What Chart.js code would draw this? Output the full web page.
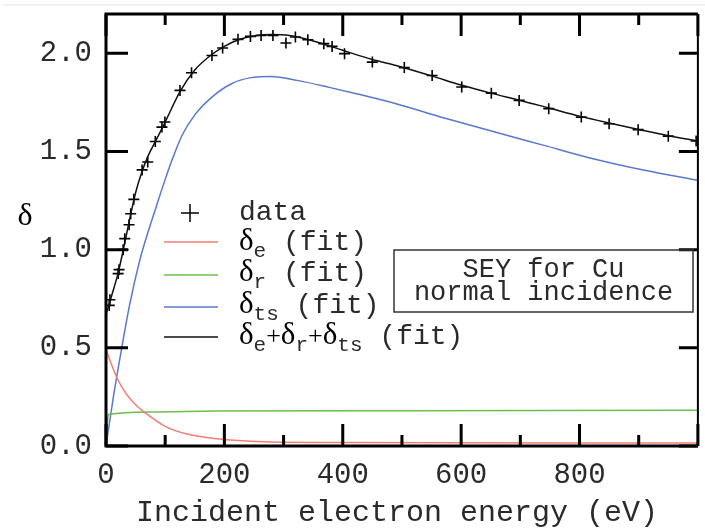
<!DOCTYPE html>
<html>
<head>
<meta charset="utf-8">
<script src="https://cdn.jsdelivr.net/npm/chart.js@4.4.1/dist/chart.umd.min.js"></script>
<style>
  html, body { margin: 0; padding: 0; background: #fff; }
  #wrap { width: 705px; height: 529px; }
</style>
</head>
<body>
<div id="wrap"><canvas id="c" width="705" height="529"></canvas></div>
<script>
// ---- measured data points (energy in eV, SEY delta) ----
const dataEnergy = [5.5, 6.7, 20.5, 22, 29, 31.7, 39, 41.7, 47, 61, 70.5, 83.3, 94.5, 99.5, 125, 144.5, 179, 197, 223, 244, 262, 282, 304, 320, 341, 368, 382, 403, 450, 504, 551, 601, 651, 698, 748, 803, 850, 899, 950, 997];
const dataDelta  = [0.716, 0.745, 0.878, 0.898, 1.0, 1.056, 1.127, 1.183, 1.256, 1.406, 1.446, 1.551, 1.624, 1.650, 1.811, 1.901, 1.989, 2.027, 2.071, 2.086, 2.091, 2.091, 2.052, 2.083, 2.069, 2.049, 2.035, 1.998, 1.955, 1.927, 1.887, 1.828, 1.797, 1.760, 1.718, 1.675, 1.641, 1.611, 1.578, 1.553];

// ---- fit curves ----
const eFitX = [0, 10, 18, 34, 50, 68, 100, 135, 187, 268, 400, 600, 1000];
const eFitY = [0.49, 0.41, 0.35, 0.267, 0.21, 0.165, 0.10, 0.062, 0.037, 0.022, 0.018, 0.016, 0.015];

const rFitX = [0, 4, 73, 187, 500, 1000];
const rFitY = [0, 0.16, 0.173, 0.178, 0.180, 0.182];

const tsFitX = [0, 13, 26, 40, 57, 70, 84.5, 98, 112, 129, 151, 179, 212, 245, 279, 323, 379, 423, 490, 570, 657, 740, 823, 910, 1000];
const tsFitY = [0, 0.26, 0.49, 0.72, 0.945, 1.08, 1.215, 1.34, 1.46, 1.585, 1.69, 1.777, 1.845, 1.876, 1.882, 1.862, 1.825, 1.794, 1.743, 1.672, 1.599, 1.531, 1.463, 1.404, 1.353];

const sumFitX = [0, 10, 20, 30, 40, 50, 60, 70, 85, 100, 125, 150, 175, 200, 225, 250, 280, 310, 350, 400, 450, 490, 550, 600, 650, 700, 750, 800, 850, 900, 950, 1000];
const sumFitY = [0.67, 0.77, 0.875, 1.01, 1.155, 1.29, 1.39, 1.47, 1.56, 1.65, 1.805, 1.915, 1.985, 2.035, 2.07, 2.088, 2.095, 2.09, 2.063, 2.015, 1.968, 1.938, 1.885, 1.838, 1.797, 1.76, 1.72, 1.68, 1.645, 1.612, 1.58, 1.553];

// ---- axis ticks ----
const xMajorTicks = [0, 200, 400, 600, 800, 1000];
const xMinorTicks = [100, 300, 500, 700, 900];
const yMajorTicks = [0, 0.5, 1.0, 1.5, 2.0];

const xTitle = 'Incident electron energy (eV)';
const yTitle = 'δ';
const boxLines = ['SEY for Cu', 'normal incidence'];

const RED = '#ef7f72', GREEN = '#6cbd4e', BLUE = '#5a78cc', BLACK = '#111';
const MONO = "'Liberation Mono', 'DejaVu Sans Mono', monospace";
const SERIF = "'Liberation Serif', 'DejaVu Serif', serif";

function pts(xs, ys) { return xs.map((x, i) => ({ x: x, y: ys[i] })); }

const lineDs = (label, xs, ys, color) => ({
  label, data: pts(xs, ys), showLine: true, borderColor: color, backgroundColor: color,
  borderWidth: 1.5, pointRadius: 0, cubicInterpolationMode: 'monotone', fill: false
});

const noOverflow = s => { s.paddingTop = 0; s.paddingBottom = 0; s.paddingLeft = 0; s.paddingRight = 0; };

const decor = {
  id: 'decor',
  afterDraw(chart) {
    const ctx = chart.ctx;
    const xs = chart.scales.x, ys = chart.scales.y;
    const a = chart.chartArea;
    ctx.save();
    // faint page edge line
    ctx.strokeStyle = '#ececec'; ctx.lineWidth = 1.5;
    ctx.beginPath(); ctx.moveTo(3, 5); ctx.lineTo(705, 5); ctx.stroke();

    ctx.strokeStyle = '#000';
    ctx.lineCap = 'butt';
    // frame
    ctx.lineWidth = 3;
    ctx.beginPath();
    ctx.moveTo(a.left, a.top - 1.5); ctx.lineTo(a.left, a.bottom + 1.5);
    ctx.moveTo(a.left - 1.5, a.bottom); ctx.lineTo(a.right, a.bottom);
    ctx.moveTo(a.left - 1.5, a.top); ctx.lineTo(a.right, a.top);
    ctx.stroke();
    ctx.lineWidth = 2;
    ctx.beginPath(); ctx.moveTo(a.right, a.top); ctx.lineTo(a.right, a.bottom); ctx.stroke();
    // ticks
    ctx.lineWidth = 3;
    ctx.beginPath();
    xMajorTicks.forEach(v => {
      const p = xs.getPixelForValue(v);
      ctx.moveTo(p, a.bottom); ctx.lineTo(p, a.bottom - 22);
      ctx.moveTo(p, a.top); ctx.lineTo(p, a.top + 22);
    });
    xMinorTicks.forEach(v => {
      const p = xs.getPixelForValue(v);
      ctx.moveTo(p, a.bottom); ctx.lineTo(p, a.bottom - 11);
      ctx.moveTo(p, a.top); ctx.lineTo(p, a.top + 11);
    });
    yMajorTicks.forEach(v => {
      const p = ys.getPixelForValue(v);
      ctx.moveTo(a.left, p); ctx.lineTo(a.left + 22, p);
      ctx.moveTo(a.right, p); ctx.lineTo(a.right - 19, p);
    });
    ctx.stroke();

    // axis titles
    ctx.fillStyle = '#2a2a2a';
    ctx.textAlign = 'center';
    ctx.textBaseline = 'alphabetic';
    ctx.font = '30px ' + MONO;
    ctx.fillText(xTitle, 397, 521);
    ctx.fillStyle = '#000';
    ctx.font = '32px ' + SERIF;
    ctx.fillText(yTitle, 25, 225);

    // legend
    const lx0 = 164, lx1 = 218, tx = 239;
    ctx.strokeStyle = '#000'; ctx.lineWidth = 1.5;
    ctx.beginPath();
    ctx.moveTo(190 - 9, 213); ctx.lineTo(190 + 9, 213);
    ctx.moveTo(190, 213 - 9); ctx.lineTo(190, 213 + 9);
    ctx.stroke();
    ctx.textAlign = 'left';
    ctx.fillStyle = '#2a2a2a';
    ctx.font = '28px ' + MONO;
    ctx.fillText('data', tx, 220);

    const rows = [
      { color: RED, ly: 242, by: 250, segs: [['δ', 'S'], ['e', 'sub'], [' (fit)', 'M']] },
      { color: GREEN, ly: 275, by: 281, segs: [['δ', 'S'], ['r', 'sub'], [' (fit)', 'M']] },
      { color: BLUE, ly: 307, by: 313, segs: [['δ', 'S'], ['ts', 'sub'], [' (fit)', 'M']] },
      { color: BLACK, ly: 337, by: 344, segs: [['δ', 'S'], ['e', 'sub'], ['+', 'P'], ['δ', 'S'], ['r', 'sub'], ['+', 'P'], ['δ', 'S'], ['ts', 'sub'], [' (fit)', 'M']] }
    ];
    rows.forEach(r => {
      ctx.strokeStyle = r.color; ctx.lineWidth = 1.5;
      ctx.beginPath(); ctx.moveTo(lx0, r.ly); ctx.lineTo(lx1, r.ly); ctx.stroke();
      let x = tx;
      r.segs.forEach(([t, k]) => {
        let dy = 0;
        if (k === 'S') { ctx.font = '31px ' + SERIF; ctx.fillStyle = '#000'; }
        else if (k === 'P') { ctx.font = '26px ' + SERIF; ctx.fillStyle = '#000'; }
        else if (k === 'sub') { ctx.font = '21px ' + MONO; ctx.fillStyle = '#2a2a2a'; dy = 7; }
        else { ctx.font = '28px ' + MONO; ctx.fillStyle = '#2a2a2a'; }
        ctx.fillText(t, x, r.by + dy);
        x += ctx.measureText(t).width;
      });
    });

    // annotation box
    ctx.strokeStyle = '#333'; ctx.lineWidth = 1.5;
    ctx.strokeRect(394, 250, 299, 62);
    ctx.fillStyle = '#2a2a2a';
    ctx.textAlign = 'center';
    ctx.font = '27px ' + MONO;
    ctx.fillText(boxLines[0], 543.5, 277);
    ctx.fillText(boxLines[1], 543.5, 300);
    ctx.restore();
  }
};

new Chart(document.getElementById('c'), {
  type: 'scatter',
  data: {
    datasets: [
      lineDs('δe (fit)', eFitX, eFitY, RED),
      lineDs('δr (fit)', rFitX, rFitY, GREEN),
      lineDs('δts (fit)', tsFitX, tsFitY, BLUE),
      lineDs('δe+δr+δts (fit)', sumFitX, sumFitY, BLACK),
      { label: 'data', data: pts(dataEnergy, dataDelta), showLine: false,
        pointStyle: 'cross', pointRadius: 5.5, borderColor: '#000', borderWidth: 1.6, backgroundColor: '#000' }
    ]
  },
  options: {
    responsive: false,
    animation: false,
    layout: { padding: { top: 14, right: 1, left: 0, bottom: 0 } },
    plugins: { legend: { display: false }, tooltip: { enabled: false } },
    scales: {
      x: {
        type: 'linear', min: 0, max: 1000,
        grid: { display: false, drawTicks: false },
        border: { display: false },
        ticks: {
          stepSize: 200, padding: 12, color: '#2a2a2a', maxRotation: 0,
          font: { family: MONO, size: 29 },
          callback: v => (v === 1000 ? '' : String(v))
        },
        afterFit: s => { s.height = 83; noOverflow(s); }
      },
      y: {
        type: 'linear', min: 0, max: 2.2,
        grid: { display: false, drawTicks: false },
        border: { display: false },
        ticks: {
          stepSize: 0.5, padding: 14, color: '#2a2a2a',
          font: { family: MONO, size: 29 },
          callback: v => (Math.abs(v / 0.5 - Math.round(v / 0.5)) < 1e-6 ? v.toFixed(1) : '')
        },
        afterFit: s => { s.width = 106; noOverflow(s); }
      }
    }
  },
  plugins: [decor]
});
</script>
</body>
</html>
